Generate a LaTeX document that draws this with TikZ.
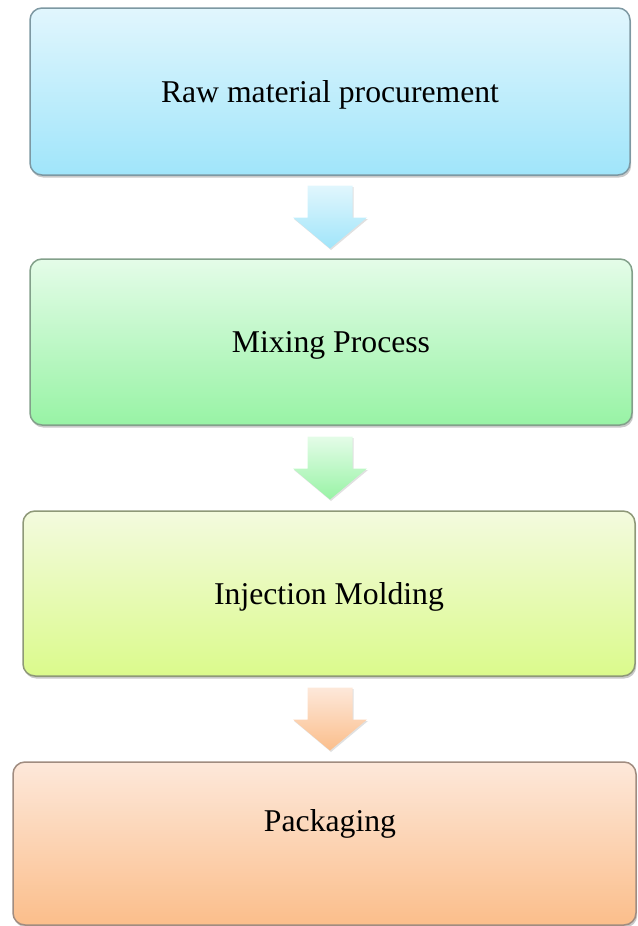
\documentclass[tikz,border=0pt]{standalone}
\usepackage{fontspec}
\setmainfont{Liberation Serif}
\usetikzlibrary{shadows,calc}

% step palette: fill gradients and outlines
\definecolor{rawTop}{HTML}{E1F6FD}
\definecolor{rawBot}{HTML}{A0E5FA}
\definecolor{rawLine}{HTML}{7D98A2}
\definecolor{mixTop}{HTML}{E4FCE8}
\definecolor{mixBot}{HTML}{98F3A5}
\definecolor{mixLine}{HTML}{82A08A}
\definecolor{injTop}{HTML}{F3FADE}
\definecolor{injBot}{HTML}{DBFA8C}
\definecolor{injLine}{HTML}{8E9878}
\definecolor{pakTop}{HTML}{FDE8DA}
\definecolor{pakBot}{HTML}{FBBE8B}
\definecolor{pakLine}{HTML}{A08C80}

\tikzset{
  stepfont/.style={font=\fontsize{31.7}{38}\selectfont, text=black, text depth=0pt},
  stepbox/.style={draw, line width=1.5pt, rounded corners=12pt, inner sep=0pt,
    stepfont,
    drop shadow={shadow xshift=1.2pt, shadow yshift=-2.5pt, opacity=0.3, fill=black!70}},
  arrowshadow/.style={drop shadow={shadow xshift=1pt, shadow yshift=-1.5pt,
    opacity=0.2, fill=black!60}},
  % downward block arrow, centred on the pic origin
  blockarrow/.pic={
    \shade[pic actions, arrowshadow]
      (-22.5,-31.5) -- (22.5,-31.5) -- (22.5,0.5) -- (37,0.5)
      -- (0,31.5) -- (-37,0.5) -- (-22.5,0.5) -- cycle;
  }
}

\begin{document}
\begin{tikzpicture}[x=1pt, y=-1pt]
  \useasboundingbox (0,0) rectangle (637,926);

  % process steps
  \node[stepbox, minimum width=600pt, minimum height=167pt,
        top color=rawTop, bottom color=rawBot, draw=rawLine]
        (raw) at (330,91.5) {Raw material procurement};
  \node[stepbox, minimum width=602pt, minimum height=166pt,
        top color=mixTop, bottom color=mixBot, draw=mixLine]
        (mix) at (331,342) {Mixing Process};
  \node[stepbox, minimum width=612pt, minimum height=165pt,
        top color=injTop, bottom color=injBot, draw=injLine]
        (inj) at (329,593.5) {Injection Molding};
  \node[stepbox, minimum width=623pt, minimum height=163pt,
        top color=pakTop, bottom color=pakBot, draw=pakLine]
        (pak) at (324.5,843.5) {};
  \node[stepfont, inner sep=0pt] (paktext) at (330,820.5) {Packaging};

  % block arrows between the steps
  \path (raw.south) -- (mix.north) coordinate[midway] (m1);
  \path (mix.south) -- (inj.north) coordinate[midway] (m2);
  \path (inj.south) -- (pak.north) coordinate[midway] (m3);
  \pic[top color=rawTop, bottom color=rawBot] at (m1 -| 330,0) {blockarrow};
  \pic[top color=mixTop, bottom color=mixBot] at (m2 -| 330,0) {blockarrow};
  \pic[top color=pakTop, bottom color=pakBot] at (m3 -| 330,0) {blockarrow};
\end{tikzpicture}
\end{document}
